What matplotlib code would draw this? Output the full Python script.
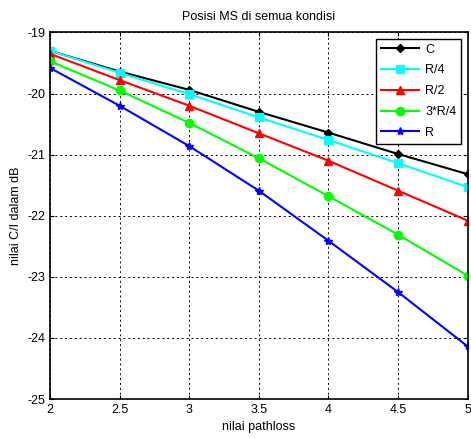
import matplotlib
matplotlib.use("Agg")
import matplotlib.pyplot as plt

plt.rcParams["font.family"] = ["Liberation Sans", "DejaVu Sans"]
plt.rcParams["axes.unicode_minus"] = False

pathloss = [2, 2.5, 3, 3.5, 4, 4.5, 5]
ci_c = [-19.30, -19.64, -19.94, -20.30, -20.64, -20.99, -21.32]
ci_r4 = [-19.30, -19.66, -20.01, -20.39, -20.76, -21.14, -21.53]
ci_r2 = [-19.35, -19.78, -20.20, -20.65, -21.10, -21.59, -22.08]
ci_3r4 = [-19.47, -19.95, -20.48, -21.06, -21.68, -22.31, -22.98]
ci_r = [-19.58, -20.20, -20.86, -21.59, -22.41, -23.25, -24.14]

series = [
    ("C", ci_c, "black", "D", 4),
    ("R/4", ci_r4, "cyan", "s", 6),
    ("R/2", ci_r2, "red", "^", 6),
    ("3*R/4", ci_3r4, "lime", "o", 6),
    ("R", ci_r, "blue", "*", 6),
]

fig = plt.figure(figsize=(4.71, 4.38), dpi=100)
ax = fig.add_axes([0.106, 0.089, 0.887, 0.837])

for label, vals, color, marker, ms in series:
    ax.plot(pathloss, vals, color=color, marker=marker, markersize=ms,
            linewidth=1.5, label=label)

ax.set_xlim(2, 5)
ax.set_ylim(-25, -19)
ax.set_xticks(pathloss)
ax.set_xticklabels(["2", "2.5", "3", "3.5", "4", "4.5", "5"])
ax.set_yticks([-25, -24, -23, -22, -21, -20, -19])
ax.tick_params(direction="in", top=True, right=True, labelsize=9, length=3)
ax.grid(True, color="black", linestyle=(0, (2, 3)), linewidth=0.7)
for s in ax.spines.values():
    s.set_linewidth(1.2)

ax.set_title("Posisi MS di semua kondisi", fontsize=9, pad=9)
ax.set_xlabel("nilai pathloss", fontsize=9)
ax.set_ylabel("nilai C/I dalam dB", fontsize=9)

leg = ax.legend(loc="upper right", fontsize=9, fancybox=False, framealpha=1,
                edgecolor="black", borderaxespad=0.5, handlelength=3.0,
                labelspacing=0.7, handletextpad=0.5, borderpad=0.4)
leg.get_frame().set_linewidth(1.0)

fig.savefig("out.png", dpi=100)
